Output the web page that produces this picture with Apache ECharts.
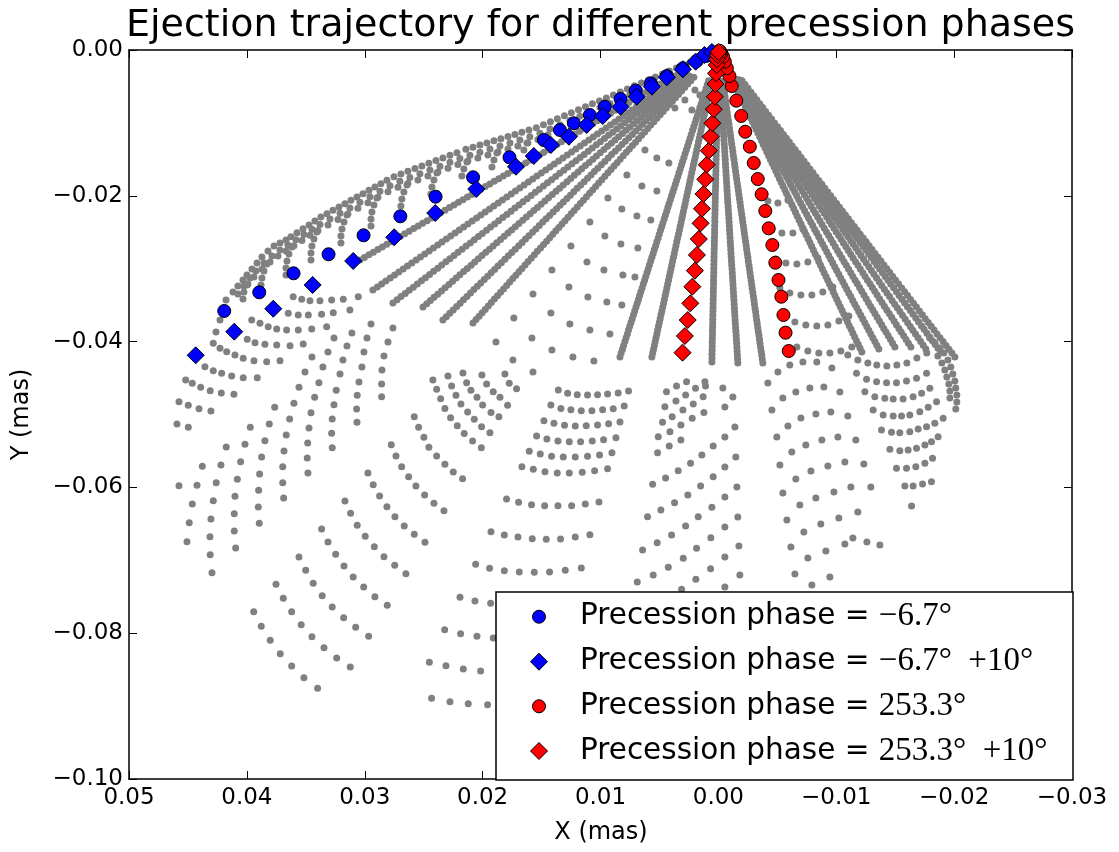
<!DOCTYPE html>
<html><head><meta charset="utf-8">
<script src="https://cdn.jsdelivr.net/npm/echarts@6/dist/echarts.min.js"></script>
<style>html,body{margin:0;padding:0;background:#fff}#c{width:1119px;height:852px}</style>
</head><body><div id="c"></div>
<script>
const titleText = 'Ejection trajectory for different precession phases';
const xAxisName = 'X (mas)';
const yAxisName = 'Y (mas)';
const xTicks = [0.05, 0.04, 0.03, 0.02, 0.01, 0.00, -0.01, -0.02, -0.03];
const yTicks = [0.00, -0.02, -0.04, -0.06, -0.08, -0.10];
const legendMain = 'Precession phase = ';
const legendMath = [['\u22126.7', ''], ['\u22126.7', '+10'], ['253.3', ''], ['253.3', '+10']];

const blueCircle = [[0.04192,-0.03580],[0.03895,-0.03324],[0.03604,-0.03063],[0.03307,-0.02802],[0.03010,-0.02542],[0.02698,-0.02281],[0.02399,-0.02012],[0.02081,-0.01746],[0.01772,-0.01472],[0.01480,-0.01235],[0.01344,-0.01097],[0.01226,-0.01005],[0.01090,-0.00892],[0.00963,-0.00778],[0.00830,-0.00672],[0.00702,-0.00558],[0.00573,-0.00457],[0.00437,-0.00357],[0.00301,-0.00251],[0.00184,-0.00151],[0.00103,-0.00082],[0.00047,-0.00034]];
const blueDiamond = [[0.04434,-0.04188],[0.04107,-0.03864],[0.03776,-0.03549],[0.03442,-0.03224],[0.03098,-0.02894],[0.02750,-0.02569],[0.02402,-0.02236],[0.02054,-0.01907],[0.01717,-0.01601],[0.01566,-0.01454],[0.01421,-0.01303],[0.01268,-0.01189],[0.01117,-0.01029],[0.00981,-0.00905],[0.00830,-0.00778],[0.00693,-0.00641],[0.00564,-0.00503],[0.00437,-0.00374],[0.00301,-0.00265],[0.00193,-0.00160],[0.00118,-0.00069],[0.00055,-0.00027]];
const redCircle = [[-0.00597,-0.04129],[-0.00570,-0.03878],[-0.00552,-0.03635],[-0.00534,-0.03384],[-0.00510,-0.03155],[-0.00483,-0.02918],[-0.00458,-0.02675],[-0.00427,-0.02446],[-0.00398,-0.02208],[-0.00367,-0.01979],[-0.00334,-0.01770],[-0.00300,-0.01550],[-0.00267,-0.01326],[-0.00228,-0.01121],[-0.00194,-0.00905],[-0.00152,-0.00695],[-0.00113,-0.00494],[-0.00094,-0.00357],[-0.00072,-0.00251],[-0.00055,-0.00160],[-0.00040,-0.00092],[-0.00025,-0.00045],[-0.00016,-0.00023],[-0.00008,-0.00010]];
const redDiamond = [[0.00304,-0.04152],[0.00284,-0.03923],[0.00260,-0.03704],[0.00238,-0.03475],[0.00221,-0.03247],[0.00199,-0.03027],[0.00182,-0.02812],[0.00166,-0.02593],[0.00151,-0.02377],[0.00139,-0.02177],[0.00126,-0.01975],[0.00111,-0.01774],[0.00099,-0.01573],[0.00081,-0.01381],[0.00066,-0.01189],[0.00051,-0.01005],[0.00039,-0.00813],[0.00030,-0.00641],[0.00024,-0.00466],[0.00020,-0.00320],[0.00014,-0.00206],[0.00012,-0.00128],[0.00005,-0.00069],[0.00000,-0.00027]];

const grayLowerLeft = [[0.04519,-0.04527],[0.04463,-0.04572],[0.04392,-0.04627],[0.04311,-0.04673],[0.04217,-0.04705],[0.04110,-0.04723],
[0.04576,-0.04824],[0.04497,-0.04874],[0.04406,-0.04920],[0.04305,-0.04952],[0.04593,-0.05130],[0.04497,-0.05176],
[0.03558,-0.04627],[0.03601,-0.04846],[0.03637,-0.05062],[0.03666,-0.05281],[0.03685,-0.05501],[0.03696,-0.05716],[0.03696,-0.05935],[0.03688,-0.06145],
[0.03389,-0.04564],[0.03425,-0.04764],[0.03456,-0.04975],[0.03473,-0.05185],[0.03484,-0.05391],[0.03488,-0.05597],[0.03482,-0.05802],
[0.03242,-0.04668],[0.03261,-0.04865],[0.03276,-0.05062],[0.03281,-0.05258],[0.03276,-0.05455],
[0.03049,-0.04554],[0.03064,-0.04737],[0.03069,-0.04924],[0.03066,-0.05107],[0.02857,-0.04581],[0.02857,-0.04756],
[0.03764,-0.04901],[0.03810,-0.05130],[0.03847,-0.05359],[0.03875,-0.05583],[0.03892,-0.05816],[0.03900,-0.06040],[0.03903,-0.06269],[0.03895,-0.06492],
[0.03971,-0.05176],[0.04016,-0.05409],[0.04053,-0.05647],[0.04081,-0.05889],[0.04101,-0.06122],[0.04107,-0.06361],[0.04107,-0.06598],[0.04095,-0.06831],
[0.04175,-0.05446],[0.04220,-0.05693],[0.04260,-0.05935],[0.04285,-0.06182],[0.04305,-0.06433],[0.04313,-0.06676],[0.04311,-0.06923],[0.04296,-0.07170],
[0.04378,-0.05710],[0.04423,-0.05971],[0.04463,-0.06228],[0.04489,-0.06484],[0.04508,-0.06745],[0.04576,-0.05976],
[0.02580,-0.05030],[0.02543,-0.05176],[0.02498,-0.05313],[0.02456,-0.05450],
[0.02775,-0.05414],[0.02735,-0.05569],[0.02687,-0.05716],[0.02628,-0.05853],[0.02566,-0.05981],[0.02492,-0.06104],
[0.02973,-0.05802],[0.02928,-0.05963],[0.02874,-0.06118],[0.02812,-0.06265],[0.02744,-0.06402],[0.02665,-0.06529],[0.02580,-0.06643],[0.02489,-0.06753],
[0.03168,-0.06186],[0.03120,-0.06355],[0.03064,-0.06520],[0.02996,-0.06671],[0.02919,-0.06813],[0.02837,-0.06950],[0.02746,-0.07068],[0.02651,-0.07184],
[0.03366,-0.06570],[0.03312,-0.06749],[0.03247,-0.06918],[0.03176,-0.07078],[0.03098,-0.07229],[0.03009,-0.07366],[0.02914,-0.07499],[0.02809,-0.07617],
[0.03558,-0.06955],[0.03501,-0.07137],[0.03437,-0.07315],[0.03361,-0.07485],[0.03276,-0.07640],[0.03179,-0.07787],[0.03077,-0.07919],[0.02967,-0.08042],
[0.03753,-0.07329],[0.03691,-0.07521],[0.03620,-0.07705],[0.03539,-0.07883],[0.03448,-0.08048],[0.03346,-0.08199],[0.03238,-0.08340],[0.03123,-0.08463],
[0.03942,-0.07705],[0.03878,-0.07905],[0.03802,-0.08097],[0.03717,-0.08281],[0.03620,-0.08450],[0.03516,-0.08610],[0.03400,-0.08756]];

const grayLowerMid = [[0.01358,-0.04664],[0.01279,-0.04710],[0.01197,-0.04728],[0.01110,-0.04733],[0.01025,-0.04728],[0.00940,-0.04719],[0.00850,-0.04705],[0.00762,-0.04678],
[0.01421,-0.04870],[0.01336,-0.04916],[0.01251,-0.04934],[0.01163,-0.04947],[0.01073,-0.04947],[0.00982,-0.04934],[0.00892,-0.04920],[0.00799,-0.04883],
[0.01480,-0.05085],[0.01395,-0.05121],[0.01305,-0.05149],[0.01214,-0.05158],[0.01121,-0.05153],[0.01025,-0.05144],[0.00931,-0.05126],[0.00835,-0.05103],
[0.01542,-0.05295],[0.01455,-0.05336],[0.01361,-0.05364],[0.01265,-0.05373],[0.01169,-0.05373],[0.01070,-0.05364],[0.00974,-0.05345],[0.00869,-0.05318],
[0.01604,-0.05505],[0.01511,-0.05542],[0.01415,-0.05574],[0.01316,-0.05583],[0.01214,-0.05583],[0.01110,-0.05574],[0.01008,-0.05556],[0.00903,-0.05524],
[0.01667,-0.05716],[0.01570,-0.05752],[0.01471,-0.05784],[0.01367,-0.05802],[0.01265,-0.05802],[0.01155,-0.05793],[0.01050,-0.05771],[0.00940,-0.05743],
[0.01797,-0.06159],[0.01695,-0.06205],[0.01585,-0.06237],[0.01474,-0.06251],[0.01361,-0.06251],[0.01245,-0.06251],[0.01129,-0.06228],[0.01013,-0.06200],
[0.01929,-0.06607],[0.01816,-0.06653],[0.01700,-0.06680],[0.01579,-0.06703],[0.01460,-0.06712],[0.01339,-0.06708],[0.01214,-0.06680],[0.01090,-0.06648],
[0.02059,-0.07055],[0.01941,-0.07110],[0.01816,-0.07142],[0.01689,-0.07161],[0.01562,-0.07165],[0.01432,-0.07161],[0.01299,-0.07138],[0.01163,-0.07106],
[0.02192,-0.07508],[0.02065,-0.07558],[0.01932,-0.07590],
[0.02322,-0.07952],[0.02187,-0.08006],[0.02048,-0.08043],[0.01910,-0.08066],
[0.02452,-0.08400],[0.02311,-0.08445],[0.02164,-0.08491],[0.02017,-0.08519],
[0.02433,-0.08894],[0.02277,-0.08939],[0.02122,-0.08967],[0.01958,-0.08981],
[0.02390,-0.05569],[0.02320,-0.05684],[0.02249,-0.05789],[0.02170,-0.05880],[0.02413,-0.06219],[0.02328,-0.06319],
[0.02390,-0.04655],[0.02356,-0.04783],[0.02320,-0.04916],[0.02272,-0.05044],[0.02215,-0.05153],[0.02156,-0.05259],[0.02085,-0.05364],[0.02011,-0.05455],
[0.02263,-0.04609],[0.02226,-0.04737],[0.02184,-0.04856],[0.02127,-0.04966],[0.02071,-0.05066],[0.02009,-0.05167],[0.01938,-0.05249],
[0.02136,-0.04564],[0.02099,-0.04669],[0.02048,-0.04765],[0.02000,-0.04870],[0.01929,-0.04971],[0.01862,-0.05030],
[0.01966,-0.04582],[0.01910,-0.04687],[0.01853,-0.04765],[0.01788,-0.04874],[0.01774,-0.04573],[0.01712,-0.04646],
[0.00440,-0.04687],[0.00355,-0.04609],[0.00270,-0.04550],[0.00114,-0.04550],
[0.00454,-0.04893],[0.00360,-0.04815],[0.00278,-0.04733],[0.00194,-0.04641],[0.00109,-0.04609],
[0.00474,-0.05107],[0.00392,-0.05030],[0.00301,-0.04938],[0.00213,-0.04856],[0.00129,-0.04755],
[0.00510,-0.05304],[0.00411,-0.05236],[0.00318,-0.05144],[0.00222,-0.05053],[0.00123,-0.04971],
[0.00516,-0.05524],[0.00417,-0.05432],[0.00318,-0.05350],
[0.00558,-0.05958],[0.00448,-0.05871],[0.00341,-0.05771],[0.00236,-0.05670],[0.00140,-0.05556],[0.00044,-0.05432],
[0.00601,-0.06402],[0.00488,-0.06310],[0.00372,-0.06209],[0.00259,-0.06104],[0.00151,-0.05981],[0.00044,-0.05853],
[0.00643,-0.06859],[0.00519,-0.06758],[0.00397,-0.06653],[0.00278,-0.06530],[0.00171,-0.06402],[0.00055,-0.06273],
[0.00688,-0.07298],[0.00553,-0.07202],[0.00425,-0.07097],[0.00298,-0.06973],[0.00185,-0.06836],[0.00064,-0.06690],
[0.00312,-0.07398],[0.00191,-0.07261],[0.00066,-0.07115]];

const grayEnvelope = [[0.00059,-0.00041],[0.00119,-0.00082],[0.00178,-0.00123],[0.00237,-0.00164],[0.00297,-0.00205],[0.00356,-0.00246],[0.00416,-0.00287],[0.00475,-0.00328],[0.00534,-0.00369],[0.00594,-0.00410],[0.00653,-0.00451],[0.00712,-0.00492],[0.00772,-0.00534],[0.00831,-0.00575],[0.00891,-0.00616],[0.00950,-0.00657],[0.01009,-0.00698],[0.01069,-0.00739],[0.01128,-0.00780],[0.01187,-0.00821],[0.01247,-0.00862],[0.01306,-0.00903],[0.01366,-0.00944],[0.01425,-0.00985],[0.01484,-0.01026],[0.01544,-0.01067],
[0.01607,-0.01099],[0.01667,-0.01129],[0.01726,-0.01158],[0.01785,-0.01187],[0.01845,-0.01217],[0.01904,-0.01246],[0.01964,-0.01276],[0.02023,-0.01304],[0.02082,-0.01333],[0.02142,-0.01363],
[0.02218,-0.01409],[0.02277,-0.01444],[0.02337,-0.01481],[0.02396,-0.01517],[0.02456,-0.01554],[0.02515,-0.01591],[0.02574,-0.01627],[0.02634,-0.01664],[0.02693,-0.01700],[0.02752,-0.01737],
[0.02812,-0.01787],[0.02863,-0.01834],[0.02914,-0.01879],[0.02964,-0.01925],[0.03015,-0.01971],[0.03066,-0.02016],
[0.03117,-0.02062],[0.03168,-0.02108],[0.03219,-0.02154],[0.03270,-0.02199],[0.03321,-0.02245],[0.03372,-0.02291],
[0.03423,-0.02344],[0.03473,-0.02399],[0.03524,-0.02453],[0.03575,-0.02507],[0.03626,-0.02561],[0.03668,-0.02606],
[0.03719,-0.02647],[0.03770,-0.02689],[0.03821,-0.02757],[0.03872,-0.02839],[0.03914,-0.02922],[0.03957,-0.03004],[0.03999,-0.03086],[0.04033,-0.03155],[0.04076,-0.03237],[0.04118,-0.03320],
[0.04177,-0.03429],[0.04203,-0.03566],[0.04228,-0.03704],[0.04262,-0.03868],
[0.00581,-0.00498],[0.00666,-0.00557],[0.00751,-0.00615],[0.00835,-0.00674],[0.00920,-0.00733],[0.01005,-0.00790],[0.01090,-0.00849],[0.01175,-0.00908],[0.01260,-0.00967],[0.01344,-0.01025],[0.01429,-0.01084],[0.01514,-0.01143],
[0.01599,-0.01191],[0.01684,-0.01233],[0.01768,-0.01276],[0.01853,-0.01317],[0.01938,-0.01359],[0.02023,-0.01401],[0.02108,-0.01443],
[0.02193,-0.01488],[0.02277,-0.01540],[0.02362,-0.01593],[0.02447,-0.01645],[0.02532,-0.01697],[0.02617,-0.01749],[0.02702,-0.01801],
[0.02786,-0.01861],[0.02871,-0.01937],[0.02956,-0.02014],[0.03041,-0.02089],[0.03126,-0.02166],[0.03210,-0.02241],[0.03295,-0.02318],[0.03380,-0.02395],
[0.03448,-0.02459],[0.03516,-0.02531],[0.03584,-0.02604],[0.03652,-0.02675],[0.03719,-0.02743],[0.03787,-0.02826],[0.03855,-0.02922],[0.03923,-0.03031],[0.03974,-0.03128],[0.04025,-0.03237],[0.04076,-0.03347],
[0.01361,-0.01111],[0.01446,-0.01166],[0.01531,-0.01228],[0.01616,-0.01276],[0.01701,-0.01317],[0.01785,-0.01358],[0.01870,-0.01399],[0.01955,-0.01440],[0.02040,-0.01481],[0.02125,-0.01523],
[0.02210,-0.01571],[0.02294,-0.01623],[0.02379,-0.01673],[0.02464,-0.01728],[0.02549,-0.01783],[0.02634,-0.01831],[0.02718,-0.01883],[0.02803,-0.01944],[0.02888,-0.02019],[0.02973,-0.02096],
[0.03058,-0.02171],[0.03143,-0.02250],[0.03227,-0.02324],[0.03312,-0.02400],[0.03397,-0.02477],[0.03465,-0.02542],[0.03533,-0.02613],[0.03601,-0.02686],[0.03668,-0.02757],[0.03736,-0.02826],
[0.03804,-0.02908],[0.03872,-0.03004],[0.03940,-0.03114],[0.03991,-0.03210]];

const grayTeeth = [[0.01624,-0.01276],[0.01650,-0.01372],[0.01879,-0.01413],[0.01904,-0.01509],[0.01921,-0.01605],
[0.02133,-0.01536],[0.02159,-0.01632],[0.02176,-0.01728],[0.02388,-0.01687],[0.02413,-0.01783],[0.02430,-0.01879],[0.02439,-0.01975],
[0.02642,-0.01852],[0.02668,-0.01948],[0.02685,-0.02044],[0.02693,-0.02140],[0.02897,-0.02030],[0.02922,-0.02126],[0.02939,-0.02222],[0.02947,-0.02318],[0.02947,-0.02414],
[0.03151,-0.02263],[0.03176,-0.02359],[0.03193,-0.02455],[0.03202,-0.02551],[0.03202,-0.02647],[0.03406,-0.02497],[0.03431,-0.02593],[0.03448,-0.02689],[0.03456,-0.02785],[0.03456,-0.02881],
[0.03618,-0.02702],[0.03643,-0.02798],[0.03660,-0.02894],[0.03668,-0.02990],[0.03668,-0.03086],[0.03830,-0.02935],[0.03855,-0.03031],[0.03872,-0.03128],[0.03880,-0.03223],
[0.03999,-0.03223],[0.04025,-0.03320],[0.04033,-0.03416]];

const grayRowsUL = [[0.03607,-0.03384],[0.03535,-0.03420],[0.03465,-0.03439],[0.03380,-0.03439],[0.03281,-0.03429],[0.03182,-0.03420],[0.03055,-0.03384],
[0.03649,-0.03612],[0.03564,-0.03635],[0.03479,-0.03635],[0.03366,-0.03625],[0.03267,-0.03603],[0.03126,-0.03566],
[0.03959,-0.03704],[0.03889,-0.03749],[0.03819,-0.03796],[0.03747,-0.03827],[0.03663,-0.03841],[0.03564,-0.03841],[0.03450,-0.03827],[0.03323,-0.03796],
[0.03997,-0.03968],[0.03931,-0.04015],[0.03847,-0.04037],[0.03747,-0.04047],[0.03634,-0.04056],[0.03522,-0.04033],
[0.04285,-0.04023],[0.04228,-0.04092],[0.04171,-0.04138],[0.04101,-0.04184],[0.04031,-0.04229],[0.03940,-0.04262],[0.03832,-0.04276],[0.03719,-0.04262],
[0.04356,-0.04344],[0.04285,-0.04399],[0.04214,-0.04435],[0.04129,-0.04472],[0.04031,-0.04495],[0.03912,-0.04495],
[0.03507,-0.04417],[0.03448,-0.04211],[0.03355,-0.04348],[0.03312,-0.04143],[0.03261,-0.03951],
[0.03210,-0.04444],[0.03185,-0.04252],[0.03151,-0.04060],[0.03109,-0.03882],
[0.03024,-0.04348],[0.03007,-0.04143],[0.02981,-0.03951],[0.02947,-0.03758],
[0.02854,-0.04389],[0.02837,-0.04197],[0.02803,-0.04005],[0.02761,-0.03813]];

const grayArcsMid = [[0.00623,-0.01372],[0.00522,-0.01481],[0.00420,-0.01550],[0.00776,-0.01715],[0.00649,-0.01866],[0.00522,-0.01934],
[0.00937,-0.02030],[0.00819,-0.02181],[0.00691,-0.02277],[0.00573,-0.02332],[0.01090,-0.02359],[0.00963,-0.02551],[0.00827,-0.02661],[0.00683,-0.02716],
[0.01251,-0.02689],[0.01115,-0.02908],[0.00971,-0.03018],[0.00810,-0.03086],[0.00708,-0.03114],
[0.01412,-0.03018],[0.01268,-0.03251],[0.01107,-0.03388],[0.00946,-0.03457],[0.00819,-0.03498],
[0.01573,-0.03347],[0.01421,-0.03608],[0.01260,-0.03758],[0.01090,-0.03841],[0.00920,-0.03896],
[0.01735,-0.03676],[0.01582,-0.03951],[0.01412,-0.04115],[0.01234,-0.04211],[0.01056,-0.04266],
[0.01887,-0.04005],[0.01743,-0.04252],[0.01573,-0.04417],
[0.02422,-0.04527],[0.02294,-0.04472],[0.02167,-0.04431],[0.02006,-0.04458],[0.01811,-0.04444],
[0.00242,-0.00412],[0.00327,-0.00521],[0.00411,-0.00617],[0.00199,-0.00549],[0.00284,-0.00686],[0.00369,-0.00796],[0.00157,-0.00617],[0.00225,-0.00823]];

const grayRightRows = [[-0.01098,-0.04184],[-0.01183,-0.04252],[-0.01268,-0.04293],[-0.01344,-0.04321],[-0.01429,-0.04335],[-0.01514,-0.04321],[-0.01599,-0.04293],[-0.01684,-0.04225],[-0.01768,-0.04156],
[-0.01172,-0.04435],[-0.01257,-0.04517],[-0.01342,-0.04550],[-0.01427,-0.04564],[-0.01511,-0.04564],[-0.01596,-0.04540],[-0.01681,-0.04503],[-0.01766,-0.04435],
[-0.01243,-0.04687],[-0.01327,-0.04756],[-0.01412,-0.04778],[-0.01483,-0.04787],[-0.01567,-0.04787],[-0.01652,-0.04756],[-0.01724,-0.04709],[-0.01794,-0.04640],
[-0.01313,-0.04938],[-0.01398,-0.05007],[-0.01483,-0.05020],[-0.01554,-0.05020],[-0.01624,-0.05007],[-0.01709,-0.04961],[-0.01780,-0.04901],[-0.01851,-0.04824],
[-0.01384,-0.05212],[-0.01469,-0.05244],[-0.01539,-0.05250],[-0.01624,-0.05236],[-0.01695,-0.05199],[-0.01766,-0.05167],[-0.01836,-0.05121],[-0.01907,-0.05052],
[-0.01455,-0.05477],[-0.01539,-0.05496],[-0.01610,-0.05487],[-0.01681,-0.05464],[-0.01752,-0.05418],[-0.01808,-0.05373],[-0.01864,-0.05304],
[-0.01511,-0.05738],[-0.01596,-0.05738],[-0.01675,-0.05716],[-0.01752,-0.05669],[-0.01817,-0.05601],
[-0.01582,-0.05981],[-0.01652,-0.05981],[-0.01732,-0.05953],[-0.01808,-0.05922],[-0.01639,-0.06255],
[-0.01794,-0.03951],[-0.01836,-0.04019],[-0.01879,-0.04088],[-0.01913,-0.04156],[-0.01947,-0.04252],[-0.01972,-0.04348],[-0.01989,-0.04444],[-0.02006,-0.04540],[-0.02014,-0.04636],[-0.02023,-0.04732],[-0.02023,-0.04828],[-0.02014,-0.04924],
[-0.01862,-0.04197],[-0.01896,-0.04293],[-0.01921,-0.04389],[-0.01938,-0.04485],[-0.01955,-0.04581],[-0.01964,-0.04678],[-0.01964,-0.04774]];

const grayBelowRight = [[-0.00055,-0.04897],[-0.00140,-0.05171],[-0.00148,-0.05583],[-0.00157,-0.05994],[-0.00165,-0.06406],[-0.00174,-0.06804],[-0.00182,-0.07201],[-0.00038,-0.04636],[-0.00123,-0.04760],
[-0.00055,-0.05309],[-0.00055,-0.05720],[-0.00055,-0.06132],[-0.00055,-0.06543],[-0.00055,-0.06955],[-0.00055,-0.07366],
[-0.00420,-0.04568],[-0.00454,-0.04938],[-0.00496,-0.05308],[-0.00522,-0.05693],[-0.00547,-0.06077],[-0.00581,-0.06447],[-0.00615,-0.06817],[-0.00649,-0.07188],
[-0.00505,-0.04417],[-0.00547,-0.04774],[-0.00590,-0.05158],[-0.00623,-0.05514],[-0.00657,-0.05885],[-0.00691,-0.06241],[-0.00725,-0.06612],[-0.00759,-0.06968],[-0.00793,-0.07339],
[-0.00606,-0.04321],[-0.00657,-0.04691],[-0.00700,-0.05048],[-0.00742,-0.05418],[-0.00785,-0.05775],[-0.00827,-0.06145],[-0.00869,-0.06502],[-0.00912,-0.06872],[-0.00946,-0.07229],
[-0.00717,-0.04280],[-0.00776,-0.04636],[-0.00827,-0.04993],[-0.00878,-0.05350],[-0.00929,-0.05706],[-0.00980,-0.06063],[-0.01022,-0.06420],[-0.01073,-0.06776],
[-0.00835,-0.04280],[-0.00895,-0.04623],[-0.00954,-0.04966],[-0.01014,-0.05308],[-0.01073,-0.05652],[-0.01124,-0.05994],[-0.01183,-0.06337],
[-0.00963,-0.04362],[-0.01031,-0.04691],[-0.01098,-0.05020],[-0.01166,-0.05350],[-0.01234,-0.05679],[-0.01293,-0.05994],
[-0.01141,-0.06694],[-0.01260,-0.06749],[-0.01370,-0.06790]];

const grayWedgeRight = [[-0.00420,-0.02071],[-0.00505,-0.02099],[-0.00590,-0.02058],
[-0.00454,-0.02469],[-0.00539,-0.02510],[-0.00632,-0.02510],[-0.00717,-0.02455],
[-0.00488,-0.02867],[-0.00573,-0.02922],[-0.00666,-0.02935],[-0.00759,-0.02908],[-0.00844,-0.02853],
[-0.00522,-0.03265],[-0.00606,-0.03333],[-0.00700,-0.03361],[-0.00793,-0.03361],[-0.00886,-0.03320],[-0.00971,-0.03251],
[-0.00556,-0.03662],[-0.00649,-0.03731],[-0.00742,-0.03772],[-0.00835,-0.03786],[-0.00929,-0.03772],[-0.01022,-0.03717],[-0.01107,-0.03649],
[-0.00666,-0.04074],[-0.00759,-0.04129],[-0.00852,-0.04156],[-0.00946,-0.04156],[-0.01039,-0.04129],[-0.01132,-0.04074]];

// dense straight rays of the fan, read as x and y lists (two interleaved passes each)
const rayL1x = [0.00304,0.00380,0.00456,0.00532,0.00608,0.00684,0.00760,0.00836,0.00912,0.00988,0.01064,0.01140,0.01216,0.01292,0.01369,0.01445,0.01521,0.01597,0.01673,0.01749,0.01825,0.01901,0.01977,0.02053,0.02129,0.02205,0.02281,0.02357,0.02433,0.02509,0.02585,0.02661,0.02737,0.02813,0.02889,0.02965,0.03041];
const rayL1y = [-0.00288,-0.00360,-0.00432,-0.00504,-0.00576,-0.00648,-0.00720,-0.00792,-0.00864,-0.00936,-0.01008,-0.01080,-0.01152,-0.01224,-0.01297,-0.01369,-0.01441,-0.01513,-0.01585,-0.01657,-0.01729,-0.01801,-0.01873,-0.01945,-0.02017,-0.02089,-0.02161,-0.02233,-0.02305,-0.02377,-0.02449,-0.02521,-0.02593,-0.02665,-0.02737,-0.02809,-0.02881];
const rayL1xm = [0.00342,0.00418,0.00494,0.00570,0.00646,0.00722,0.00798,0.00874,0.00950,0.01026,0.01102,0.01178,0.01254,0.01331,0.01407,0.01483,0.01559,0.01635,0.01711,0.01787,0.01863,0.01939,0.02015,0.02091,0.02167,0.02243,0.02319,0.02395,0.02471,0.02547,0.02623,0.02699,0.02775,0.02851,0.02927,0.03003];
const rayL1ym = [-0.00324,-0.00396,-0.00468,-0.00540,-0.00612,-0.00684,-0.00756,-0.00828,-0.00900,-0.00972,-0.01044,-0.01116,-0.01188,-0.01260,-0.01333,-0.01405,-0.01477,-0.01549,-0.01621,-0.01693,-0.01765,-0.01837,-0.01909,-0.01981,-0.02053,-0.02125,-0.02197,-0.02269,-0.02341,-0.02413,-0.02485,-0.02557,-0.02629,-0.02701,-0.02773,-0.02845];
const rayL2x = [0.00293,0.00366,0.00440,0.00513,0.00586,0.00659,0.00733,0.00806,0.00879,0.00952,0.01026,0.01099,0.01172,0.01245,0.01319,0.01392,0.01465,0.01539,0.01612,0.01685,0.01758,0.01832,0.01905,0.01978,0.02051,0.02125,0.02198,0.02271,0.02345,0.02418,0.02491,0.02564,0.02638,0.02711,0.02784,0.02857,0.02931];
const rayL2y = [-0.00329,-0.00412,-0.00494,-0.00576,-0.00658,-0.00741,-0.00823,-0.00905,-0.00988,-0.01070,-0.01152,-0.01235,-0.01317,-0.01399,-0.01481,-0.01564,-0.01646,-0.01728,-0.01811,-0.01893,-0.01975,-0.02058,-0.02140,-0.02222,-0.02304,-0.02387,-0.02469,-0.02551,-0.02634,-0.02716,-0.02798,-0.02881,-0.02963,-0.03045,-0.03127,-0.03210,-0.03292];
const rayL2xm = [0.00330,0.00403,0.00476,0.00550,0.00623,0.00696,0.00769,0.00843,0.00916,0.00989,0.01062,0.01136,0.01209,0.01282,0.01355,0.01429,0.01502,0.01575,0.01648,0.01722,0.01795,0.01868,0.01941,0.02015,0.02088,0.02161,0.02234,0.02308,0.02381,0.02454,0.02528,0.02601,0.02674,0.02747,0.02821,0.02894];
const rayL2ym = [-0.00370,-0.00453,-0.00535,-0.00617,-0.00700,-0.00782,-0.00864,-0.00946,-0.01029,-0.01111,-0.01193,-0.01276,-0.01358,-0.01440,-0.01523,-0.01605,-0.01687,-0.01770,-0.01852,-0.01934,-0.02016,-0.02099,-0.02181,-0.02263,-0.02346,-0.02428,-0.02510,-0.02593,-0.02675,-0.02757,-0.02840,-0.02922,-0.03004,-0.03086,-0.03169,-0.03251];
const rayL3x = [0.00276,0.00345,0.00414,0.00483,0.00552,0.00621,0.00690,0.00759,0.00828,0.00897,0.00966,0.01035,0.01104,0.01173,0.01242,0.01311,0.01380,0.01450,0.01519,0.01588,0.01657,0.01726,0.01795,0.01864,0.01933,0.02002,0.02071,0.02140,0.02209,0.02278,0.02347,0.02416,0.02485,0.02554,0.02623,0.02692,0.02761];
const rayL3y = [-0.00347,-0.00434,-0.00521,-0.00607,-0.00694,-0.00781,-0.00868,-0.00954,-0.01041,-0.01128,-0.01215,-0.01301,-0.01388,-0.01475,-0.01562,-0.01648,-0.01735,-0.01822,-0.01909,-0.01995,-0.02082,-0.02169,-0.02256,-0.02342,-0.02429,-0.02516,-0.02603,-0.02689,-0.02776,-0.02863,-0.02950,-0.03036,-0.03123,-0.03210,-0.03297,-0.03383,-0.03470];
const rayL3xm = [0.00311,0.00380,0.00449,0.00518,0.00587,0.00656,0.00725,0.00794,0.00863,0.00932,0.01001,0.01070,0.01139,0.01208,0.01277,0.01346,0.01415,0.01484,0.01553,0.01622,0.01691,0.01760,0.01829,0.01898,0.01967,0.02036,0.02105,0.02174,0.02243,0.02312,0.02381,0.02450,0.02519,0.02588,0.02657,0.02726];
const rayL3ym = [-0.00390,-0.00477,-0.00564,-0.00651,-0.00737,-0.00824,-0.00911,-0.00998,-0.01085,-0.01171,-0.01258,-0.01345,-0.01432,-0.01518,-0.01605,-0.01692,-0.01779,-0.01865,-0.01952,-0.02039,-0.02126,-0.02212,-0.02299,-0.02386,-0.02473,-0.02559,-0.02646,-0.02733,-0.02820,-0.02906,-0.02993,-0.03080,-0.03167,-0.03253,-0.03340,-0.03427];
const rayL4x = [0.00251,0.00313,0.00376,0.00439,0.00501,0.00564,0.00627,0.00689,0.00752,0.00814,0.00877,0.00940,0.01002,0.01065,0.01128,0.01190,0.01253,0.01316,0.01378,0.01441,0.01504,0.01566,0.01629,0.01692,0.01754,0.01817,0.01880,0.01942,0.02005,0.02067,0.02130,0.02193,0.02255,0.02318,0.02381,0.02443,0.02506];
const rayL4y = [-0.00353,-0.00441,-0.00529,-0.00617,-0.00705,-0.00793,-0.00881,-0.00969,-0.01058,-0.01146,-0.01234,-0.01322,-0.01410,-0.01498,-0.01586,-0.01674,-0.01763,-0.01851,-0.01939,-0.02027,-0.02115,-0.02203,-0.02291,-0.02379,-0.02468,-0.02556,-0.02644,-0.02732,-0.02820,-0.02908,-0.02996,-0.03084,-0.03173,-0.03261,-0.03349,-0.03437,-0.03525];
const rayL4xm = [0.00282,0.00345,0.00407,0.00470,0.00533,0.00595,0.00658,0.00720,0.00783,0.00846,0.00908,0.00971,0.01034,0.01096,0.01159,0.01222,0.01284,0.01347,0.01409,0.01472,0.01535,0.01597,0.01660,0.01723,0.01785,0.01848,0.01911,0.01973,0.02036,0.02098,0.02161,0.02224,0.02286,0.02349,0.02412,0.02474];
const rayL4ym = [-0.00397,-0.00485,-0.00573,-0.00661,-0.00749,-0.00837,-0.00925,-0.01013,-0.01102,-0.01190,-0.01278,-0.01366,-0.01454,-0.01542,-0.01630,-0.01718,-0.01807,-0.01895,-0.01983,-0.02071,-0.02159,-0.02247,-0.02335,-0.02423,-0.02512,-0.02600,-0.02688,-0.02776,-0.02864,-0.02952,-0.03040,-0.03128,-0.03217,-0.03305,-0.03393,-0.03481];
const rayL5x = [0.00234,0.00292,0.00351,0.00409,0.00467,0.00526,0.00584,0.00643,0.00701,0.00760,0.00818,0.00876,0.00935,0.00993,0.01052,0.01110,0.01168,0.01227,0.01285,0.01344,0.01402,0.01461,0.01519,0.01577,0.01636,0.01694,0.01753,0.01811,0.01870,0.01928,0.01986,0.02045,0.02103,0.02162,0.02220,0.02279,0.02337];
const rayL5y = [-0.00370,-0.00463,-0.00556,-0.00648,-0.00741,-0.00833,-0.00926,-0.01019,-0.01111,-0.01204,-0.01296,-0.01389,-0.01482,-0.01574,-0.01667,-0.01759,-0.01852,-0.01945,-0.02037,-0.02130,-0.02222,-0.02315,-0.02408,-0.02500,-0.02593,-0.02685,-0.02778,-0.02871,-0.02963,-0.03056,-0.03148,-0.03241,-0.03334,-0.03426,-0.03519,-0.03611,-0.03704];
const rayL5xm = [0.00263,0.00321,0.00380,0.00438,0.00497,0.00555,0.00614,0.00672,0.00730,0.00789,0.00847,0.00906,0.00964,0.01023,0.01081,0.01139,0.01198,0.01256,0.01315,0.01373,0.01432,0.01490,0.01548,0.01607,0.01665,0.01724,0.01782,0.01841,0.01899,0.01957,0.02016,0.02074,0.02133,0.02191,0.02250,0.02308];
const rayL5ym = [-0.00417,-0.00509,-0.00602,-0.00695,-0.00787,-0.00880,-0.00972,-0.01065,-0.01158,-0.01250,-0.01343,-0.01435,-0.01528,-0.01621,-0.01713,-0.01806,-0.01898,-0.01991,-0.02084,-0.02176,-0.02269,-0.02361,-0.02454,-0.02547,-0.02639,-0.02732,-0.02824,-0.02917,-0.03010,-0.03102,-0.03195,-0.03287,-0.03380,-0.03473,-0.03565,-0.03658];
const rayL6x = [0.00208,0.00260,0.00312,0.00364,0.00416,0.00468,0.00521,0.00573,0.00625,0.00677,0.00729,0.00781,0.00833,0.00885,0.00937,0.00989,0.01041,0.01093,0.01145,0.01197,0.01249,0.01301,0.01353,0.01405,0.01457,0.01509,0.01561,0.01614,0.01666,0.01718,0.01770,0.01822,0.01874,0.01926,0.01978,0.02030,0.02082];
const rayL6y = [-0.00375,-0.00468,-0.00562,-0.00655,-0.00749,-0.00843,-0.00936,-0.01030,-0.01124,-0.01217,-0.01311,-0.01404,-0.01498,-0.01592,-0.01685,-0.01779,-0.01873,-0.01966,-0.02060,-0.02153,-0.02247,-0.02341,-0.02434,-0.02528,-0.02622,-0.02715,-0.02809,-0.02902,-0.02996,-0.03090,-0.03183,-0.03277,-0.03371,-0.03464,-0.03558,-0.03651,-0.03745];
const rayL6xm = [0.00234,0.00286,0.00338,0.00390,0.00442,0.00494,0.00547,0.00599,0.00651,0.00703,0.00755,0.00807,0.00859,0.00911,0.00963,0.01015,0.01067,0.01119,0.01171,0.01223,0.01275,0.01327,0.01379,0.01431,0.01483,0.01536,0.01588,0.01640,0.01692,0.01744,0.01796,0.01848,0.01900,0.01952,0.02004,0.02056];
const rayL6ym = [-0.00421,-0.00515,-0.00609,-0.00702,-0.00796,-0.00889,-0.00983,-0.01077,-0.01170,-0.01264,-0.01358,-0.01451,-0.01545,-0.01638,-0.01732,-0.01826,-0.01919,-0.02013,-0.02107,-0.02200,-0.02294,-0.02387,-0.02481,-0.02575,-0.02668,-0.02762,-0.02856,-0.02949,-0.03043,-0.03136,-0.03230,-0.03324,-0.03417,-0.03511,-0.03605,-0.03698];
const rayM1x = [0.00084,0.00104,0.00125,0.00146,0.00167,0.00188,0.00209,0.00230,0.00251,0.00271,0.00292,0.00313,0.00334,0.00355,0.00376,0.00397,0.00418,0.00438,0.00459,0.00480,0.00501,0.00522,0.00543,0.00564,0.00585,0.00605,0.00626,0.00647,0.00668,0.00689,0.00710,0.00731,0.00752,0.00772,0.00793,0.00814,0.00835];
const rayM1xm = [0.00094,0.00115,0.00136,0.00157,0.00177,0.00198,0.00219,0.00240,0.00261,0.00282,0.00303,0.00324,0.00344,0.00365,0.00386,0.00407,0.00428,0.00449,0.00470,0.00491,0.00511,0.00532,0.00553,0.00574,0.00595,0.00616,0.00637,0.00658,0.00678,0.00699,0.00720,0.00741,0.00762,0.00783,0.00804,0.00825];
const rayM2x = [0.00056,0.00071,0.00085,0.00099,0.00113,0.00127,0.00141,0.00155,0.00169,0.00183,0.00197,0.00212,0.00226,0.00240,0.00254,0.00268,0.00282,0.00296,0.00310,0.00324,0.00338,0.00353,0.00367,0.00381,0.00395,0.00409,0.00423,0.00437,0.00451,0.00465,0.00479,0.00494,0.00508,0.00522,0.00536,0.00550,0.00564];
const rayM2xm = [0.00063,0.00078,0.00092,0.00106,0.00120,0.00134,0.00148,0.00162,0.00176,0.00190,0.00205,0.00219,0.00233,0.00247,0.00261,0.00275,0.00289,0.00303,0.00317,0.00331,0.00346,0.00360,0.00374,0.00388,0.00402,0.00416,0.00430,0.00444,0.00458,0.00472,0.00487,0.00501,0.00515,0.00529,0.00543,0.00557];
const rayM12y = [-0.00421,-0.00526,-0.00632,-0.00737,-0.00842,-0.00948,-0.01053,-0.01158,-0.01263,-0.01369,-0.01474,-0.01579,-0.01684,-0.01790,-0.01895,-0.02000,-0.02106,-0.02211,-0.02316,-0.02421,-0.02527,-0.02632,-0.02737,-0.02842,-0.02948,-0.03053,-0.03158,-0.03264,-0.03369,-0.03474,-0.03579,-0.03685,-0.03790,-0.03895,-0.04000,-0.04106,-0.04211];
const rayM12ym = [-0.00474,-0.00579,-0.00684,-0.00790,-0.00895,-0.01000,-0.01105,-0.01211,-0.01316,-0.01421,-0.01526,-0.01632,-0.01737,-0.01842,-0.01948,-0.02053,-0.02158,-0.02263,-0.02369,-0.02474,-0.02579,-0.02684,-0.02790,-0.02895,-0.03000,-0.03106,-0.03211,-0.03316,-0.03421,-0.03527,-0.03632,-0.03737,-0.03842,-0.03948,-0.04053,-0.04158];
const rayM3x = [0.00006,0.00007,0.00008,0.00010,0.00011,0.00012,0.00014,0.00015,0.00017,0.00018,0.00019,0.00021,0.00022,0.00023,0.00025,0.00026,0.00028,0.00029,0.00030,0.00032,0.00033,0.00034,0.00036,0.00037,0.00039,0.00040,0.00041,0.00043,0.00044,0.00045,0.00047,0.00048,0.00050,0.00051,0.00052,0.00054,0.00055];
const rayM3y = [-0.00428,-0.00535,-0.00642,-0.00749,-0.00856,-0.00963,-0.01070,-0.01177,-0.01284,-0.01391,-0.01498,-0.01605,-0.01712,-0.01819,-0.01926,-0.02033,-0.02140,-0.02247,-0.02354,-0.02461,-0.02568,-0.02675,-0.02782,-0.02889,-0.02996,-0.03103,-0.03210,-0.03317,-0.03424,-0.03531,-0.03638,-0.03745,-0.03852,-0.03959,-0.04066,-0.04173,-0.04280];
const rayM3xm = [0.00006,0.00008,0.00009,0.00010,0.00012,0.00013,0.00014,0.00016,0.00017,0.00019,0.00020,0.00021,0.00023,0.00024,0.00026,0.00027,0.00028,0.00030,0.00031,0.00032,0.00034,0.00035,0.00037,0.00038,0.00039,0.00041,0.00042,0.00043,0.00045,0.00046,0.00048,0.00049,0.00050,0.00052,0.00053,0.00054];
const rayM3ym = [-0.00482,-0.00589,-0.00696,-0.00803,-0.00910,-0.01017,-0.01124,-0.01231,-0.01338,-0.01445,-0.01552,-0.01659,-0.01766,-0.01873,-0.01980,-0.02087,-0.02194,-0.02301,-0.02408,-0.02515,-0.02622,-0.02729,-0.02836,-0.02943,-0.03050,-0.03157,-0.03264,-0.03371,-0.03478,-0.03585,-0.03692,-0.03799,-0.03906,-0.04013,-0.04120,-0.04227];
const rayM4x = [-0.00017,-0.00021,-0.00025,-0.00029,-0.00033,-0.00037,-0.00041,-0.00045,-0.00050,-0.00054,-0.00058,-0.00062,-0.00066,-0.00070,-0.00074,-0.00078,-0.00083,-0.00087,-0.00091,-0.00095,-0.00099,-0.00103,-0.00107,-0.00111,-0.00116,-0.00120,-0.00124,-0.00128,-0.00132,-0.00136,-0.00140,-0.00144,-0.00149,-0.00153,-0.00157,-0.00161,-0.00165];
const rayM4xm = [-0.00019,-0.00023,-0.00027,-0.00031,-0.00035,-0.00039,-0.00043,-0.00047,-0.00052,-0.00056,-0.00060,-0.00064,-0.00068,-0.00072,-0.00076,-0.00080,-0.00085,-0.00089,-0.00093,-0.00097,-0.00101,-0.00105,-0.00109,-0.00113,-0.00118,-0.00122,-0.00126,-0.00130,-0.00134,-0.00138,-0.00142,-0.00146,-0.00151,-0.00155,-0.00159,-0.00163];
const rayM5x = [-0.00038,-0.00047,-0.00057,-0.00066,-0.00075,-0.00085,-0.00094,-0.00104,-0.00113,-0.00123,-0.00132,-0.00141,-0.00151,-0.00160,-0.00170,-0.00179,-0.00188,-0.00198,-0.00207,-0.00217,-0.00226,-0.00236,-0.00245,-0.00254,-0.00264,-0.00273,-0.00283,-0.00292,-0.00302,-0.00311,-0.00320,-0.00330,-0.00339,-0.00349,-0.00358,-0.00368,-0.00377];
const rayM5xm = [-0.00042,-0.00052,-0.00061,-0.00071,-0.00080,-0.00090,-0.00099,-0.00108,-0.00118,-0.00127,-0.00137,-0.00146,-0.00155,-0.00165,-0.00174,-0.00184,-0.00193,-0.00203,-0.00212,-0.00221,-0.00231,-0.00240,-0.00250,-0.00259,-0.00268,-0.00278,-0.00287,-0.00297,-0.00306,-0.00316,-0.00325,-0.00334,-0.00344,-0.00353,-0.00363,-0.00372];
const rayM45y = [-0.00429,-0.00537,-0.00644,-0.00751,-0.00859,-0.00966,-0.01073,-0.01181,-0.01288,-0.01395,-0.01502,-0.01610,-0.01717,-0.01824,-0.01932,-0.02039,-0.02147,-0.02254,-0.02361,-0.02468,-0.02576,-0.02683,-0.02790,-0.02898,-0.03005,-0.03112,-0.03220,-0.03327,-0.03434,-0.03542,-0.03649,-0.03756,-0.03863,-0.03971,-0.04078,-0.04185,-0.04293];
const rayM45ym = [-0.00483,-0.00590,-0.00698,-0.00805,-0.00912,-0.01020,-0.01127,-0.01234,-0.01342,-0.01449,-0.01556,-0.01663,-0.01771,-0.01878,-0.01985,-0.02093,-0.02200,-0.02307,-0.02415,-0.02522,-0.02629,-0.02737,-0.02844,-0.02951,-0.03059,-0.03166,-0.03273,-0.03381,-0.03488,-0.03595,-0.03702,-0.03810,-0.03917,-0.04024,-0.04132,-0.04239];
const rayF1x = [-0.00201,-0.00251,-0.00301,-0.00351,-0.00401,-0.00451,-0.00502,-0.00552,-0.00602,-0.00652,-0.00702,-0.00752,-0.00802,-0.00852,-0.00903,-0.00953,-0.01003,-0.01053,-0.01103,-0.01153,-0.01203,-0.01254,-0.01304,-0.01354,-0.01404,-0.01454,-0.01504,-0.01555,-0.01605,-0.01655,-0.01705,-0.01755,-0.01805,-0.01855,-0.01906,-0.01956,-0.02006];
const rayF1xm = [-0.00226,-0.00276,-0.00326,-0.00376,-0.00426,-0.00476,-0.00527,-0.00577,-0.00627,-0.00677,-0.00727,-0.00777,-0.00827,-0.00878,-0.00928,-0.00978,-0.01028,-0.01078,-0.01128,-0.01178,-0.01229,-0.01279,-0.01329,-0.01379,-0.01429,-0.01479,-0.01529,-0.01580,-0.01630,-0.01680,-0.01730,-0.01780,-0.01830,-0.01880,-0.01931,-0.01981];
const rayF2x = [-0.00189,-0.00236,-0.00283,-0.00330,-0.00377,-0.00425,-0.00472,-0.00519,-0.00566,-0.00613,-0.00661,-0.00708,-0.00755,-0.00802,-0.00849,-0.00896,-0.00944,-0.00991,-0.01038,-0.01085,-0.01132,-0.01179,-0.01227,-0.01274,-0.01321,-0.01368,-0.01415,-0.01462,-0.01510,-0.01557,-0.01604,-0.01651,-0.01698,-0.01745,-0.01793,-0.01840,-0.01887];
const rayF2xm = [-0.00212,-0.00259,-0.00307,-0.00354,-0.00401,-0.00448,-0.00495,-0.00543,-0.00590,-0.00637,-0.00684,-0.00731,-0.00778,-0.00826,-0.00873,-0.00920,-0.00967,-0.01014,-0.01061,-0.01109,-0.01156,-0.01203,-0.01250,-0.01297,-0.01345,-0.01392,-0.01439,-0.01486,-0.01533,-0.01580,-0.01628,-0.01675,-0.01722,-0.01769,-0.01816,-0.01863];
const rayF27y = [-0.00414,-0.00518,-0.00621,-0.00725,-0.00829,-0.00932,-0.01036,-0.01139,-0.01243,-0.01346,-0.01450,-0.01554,-0.01657,-0.01761,-0.01864,-0.01968,-0.02072,-0.02175,-0.02279,-0.02382,-0.02486,-0.02589,-0.02693,-0.02797,-0.02900,-0.03004,-0.03107,-0.03211,-0.03315,-0.03418,-0.03522,-0.03625,-0.03729,-0.03832,-0.03936,-0.04040,-0.04143];
const rayF27ym = [-0.00466,-0.00570,-0.00673,-0.00777,-0.00880,-0.00984,-0.01088,-0.01191,-0.01295,-0.01398,-0.01502,-0.01606,-0.01709,-0.01813,-0.01916,-0.02020,-0.02123,-0.02227,-0.02331,-0.02434,-0.02538,-0.02641,-0.02745,-0.02848,-0.02952,-0.03056,-0.03159,-0.03263,-0.03366,-0.03470,-0.03573,-0.03677,-0.03781,-0.03884,-0.03988,-0.04091];
const rayF3x = [-0.00176,-0.00220,-0.00264,-0.00308,-0.00352,-0.00396,-0.00440,-0.00484,-0.00528,-0.00572,-0.00616,-0.00660,-0.00704,-0.00748,-0.00792,-0.00836,-0.00880,-0.00924,-0.00968,-0.01012,-0.01056,-0.01100,-0.01144,-0.01188,-0.01232,-0.01276,-0.01320,-0.01364,-0.01408,-0.01452,-0.01496,-0.01540,-0.01584,-0.01628,-0.01672,-0.01716,-0.01760];
const rayF3xm = [-0.00198,-0.00242,-0.00286,-0.00330,-0.00374,-0.00418,-0.00462,-0.00506,-0.00550,-0.00594,-0.00638,-0.00682,-0.00726,-0.00770,-0.00814,-0.00858,-0.00902,-0.00946,-0.00990,-0.01034,-0.01078,-0.01122,-0.01166,-0.01210,-0.01254,-0.01298,-0.01342,-0.01386,-0.01430,-0.01474,-0.01518,-0.01562,-0.01606,-0.01650,-0.01694,-0.01738];
const rayF36y = [-0.00410,-0.00513,-0.00615,-0.00718,-0.00820,-0.00923,-0.01025,-0.01128,-0.01230,-0.01333,-0.01435,-0.01538,-0.01640,-0.01743,-0.01845,-0.01948,-0.02051,-0.02153,-0.02256,-0.02358,-0.02461,-0.02563,-0.02666,-0.02768,-0.02871,-0.02973,-0.03076,-0.03178,-0.03281,-0.03383,-0.03486,-0.03588,-0.03691,-0.03793,-0.03896,-0.03998,-0.04101];
const rayF36ym = [-0.00461,-0.00564,-0.00666,-0.00769,-0.00871,-0.00974,-0.01077,-0.01179,-0.01282,-0.01384,-0.01487,-0.01589,-0.01692,-0.01794,-0.01897,-0.01999,-0.02102,-0.02204,-0.02307,-0.02409,-0.02512,-0.02615,-0.02717,-0.02820,-0.02922,-0.03025,-0.03127,-0.03230,-0.03332,-0.03435,-0.03537,-0.03640,-0.03742,-0.03845,-0.03947,-0.04050];
const rayF4x = [-0.00163,-0.00204,-0.00245,-0.00286,-0.00327,-0.00367,-0.00408,-0.00449,-0.00490,-0.00531,-0.00572,-0.00612,-0.00653,-0.00694,-0.00735,-0.00776,-0.00816,-0.00857,-0.00898,-0.00939,-0.00980,-0.01021,-0.01061,-0.01102,-0.01143,-0.01184,-0.01225,-0.01265,-0.01306,-0.01347,-0.01388,-0.01429,-0.01470,-0.01510,-0.01551,-0.01592,-0.01633];
const rayF4xm = [-0.00184,-0.00225,-0.00265,-0.00306,-0.00347,-0.00388,-0.00429,-0.00470,-0.00510,-0.00551,-0.00592,-0.00633,-0.00674,-0.00714,-0.00755,-0.00796,-0.00837,-0.00878,-0.00919,-0.00959,-0.01000,-0.01041,-0.01082,-0.01123,-0.01163,-0.01204,-0.01245,-0.01286,-0.01327,-0.01367,-0.01408,-0.01449,-0.01490,-0.01531,-0.01572,-0.01612];
const rayF5x = [-0.00150,-0.00187,-0.00225,-0.00262,-0.00299,-0.00337,-0.00374,-0.00412,-0.00449,-0.00487,-0.00524,-0.00561,-0.00599,-0.00636,-0.00674,-0.00711,-0.00749,-0.00786,-0.00823,-0.00861,-0.00898,-0.00936,-0.00973,-0.01010,-0.01048,-0.01085,-0.01123,-0.01160,-0.01198,-0.01235,-0.01272,-0.01310,-0.01347,-0.01385,-0.01422,-0.01460,-0.01497];
const rayF5xm = [-0.00168,-0.00206,-0.00243,-0.00281,-0.00318,-0.00356,-0.00393,-0.00430,-0.00468,-0.00505,-0.00543,-0.00580,-0.00617,-0.00655,-0.00692,-0.00730,-0.00767,-0.00805,-0.00842,-0.00879,-0.00917,-0.00954,-0.00992,-0.01029,-0.01066,-0.01104,-0.01141,-0.01179,-0.01216,-0.01254,-0.01291,-0.01328,-0.01366,-0.01403,-0.01441,-0.01478];
const rayF45y = [-0.00407,-0.00509,-0.00611,-0.00713,-0.00815,-0.00917,-0.01019,-0.01120,-0.01222,-0.01324,-0.01426,-0.01528,-0.01630,-0.01731,-0.01833,-0.01935,-0.02037,-0.02139,-0.02241,-0.02343,-0.02444,-0.02546,-0.02648,-0.02750,-0.02852,-0.02954,-0.03056,-0.03157,-0.03259,-0.03361,-0.03463,-0.03565,-0.03667,-0.03768,-0.03870,-0.03972,-0.04074];
const rayF45ym = [-0.00458,-0.00560,-0.00662,-0.00764,-0.00866,-0.00968,-0.01069,-0.01171,-0.01273,-0.01375,-0.01477,-0.01579,-0.01680,-0.01782,-0.01884,-0.01986,-0.02088,-0.02190,-0.02292,-0.02393,-0.02495,-0.02597,-0.02699,-0.02801,-0.02903,-0.03005,-0.03106,-0.03208,-0.03310,-0.03412,-0.03514,-0.03616,-0.03717,-0.03819,-0.03921,-0.04023];
const rayF6x = [-0.00136,-0.00170,-0.00204,-0.00238,-0.00272,-0.00306,-0.00340,-0.00374,-0.00408,-0.00442,-0.00476,-0.00510,-0.00544,-0.00578,-0.00612,-0.00647,-0.00681,-0.00715,-0.00749,-0.00783,-0.00817,-0.00851,-0.00885,-0.00919,-0.00953,-0.00987,-0.01021,-0.01055,-0.01089,-0.01123,-0.01157,-0.01191,-0.01225,-0.01259,-0.01293,-0.01327,-0.01361];
const rayF6xm = [-0.00153,-0.00187,-0.00221,-0.00255,-0.00289,-0.00323,-0.00357,-0.00391,-0.00425,-0.00459,-0.00493,-0.00527,-0.00561,-0.00596,-0.00630,-0.00664,-0.00698,-0.00732,-0.00766,-0.00800,-0.00834,-0.00868,-0.00902,-0.00936,-0.00970,-0.01004,-0.01038,-0.01072,-0.01106,-0.01140,-0.01174,-0.01208,-0.01242,-0.01276,-0.01310,-0.01344];
const rayF7x = [-0.00122,-0.00152,-0.00183,-0.00213,-0.00243,-0.00274,-0.00304,-0.00335,-0.00365,-0.00396,-0.00426,-0.00456,-0.00487,-0.00517,-0.00548,-0.00578,-0.00608,-0.00639,-0.00669,-0.00700,-0.00730,-0.00761,-0.00791,-0.00821,-0.00852,-0.00882,-0.00913,-0.00943,-0.00974,-0.01004,-0.01034,-0.01065,-0.01095,-0.01126,-0.01156,-0.01187,-0.01217];
const rayF7xm = [-0.00137,-0.00167,-0.00198,-0.00228,-0.00259,-0.00289,-0.00320,-0.00350,-0.00380,-0.00411,-0.00441,-0.00472,-0.00502,-0.00532,-0.00563,-0.00593,-0.00624,-0.00654,-0.00685,-0.00715,-0.00745,-0.00776,-0.00806,-0.00837,-0.00867,-0.00897,-0.00928,-0.00958,-0.00989,-0.01019,-0.01050,-0.01080,-0.01110,-0.01141,-0.01171,-0.01202];

const zip = (xs, ys) => xs.map((x, i) => [x, ys[i]]);
const grayRays = [].concat(
  zip(rayL1x, rayL1y), zip(rayL2x, rayL2y), zip(rayL3x, rayL3y), zip(rayL4x, rayL4y), zip(rayL5x, rayL5y), zip(rayL6x, rayL6y),
  zip(rayL1xm, rayL1ym), zip(rayL2xm, rayL2ym), zip(rayL3xm, rayL3ym), zip(rayL4xm, rayL4ym), zip(rayL5xm, rayL5ym), zip(rayL6xm, rayL6ym),
  zip(rayM1x, rayM12y), zip(rayM2x, rayM12y), zip(rayM3x, rayM3y), zip(rayM4x, rayM45y), zip(rayM5x, rayM45y),
  zip(rayM1xm, rayM12ym), zip(rayM2xm, rayM12ym), zip(rayM3xm, rayM3ym), zip(rayM4xm, rayM45ym), zip(rayM5xm, rayM45ym),
  zip(rayF1x, rayM12y), zip(rayF2x, rayF27y), zip(rayF3x, rayF36y), zip(rayF4x, rayF45y), zip(rayF5x, rayF45y), zip(rayF6x, rayF36y), zip(rayF7x, rayF27y),
  zip(rayF1xm, rayM12ym), zip(rayF2xm, rayF27ym), zip(rayF3xm, rayF36ym), zip(rayF4xm, rayF45ym), zip(rayF5xm, rayF45ym), zip(rayF6xm, rayF36ym), zip(rayF7xm, rayF27ym));

const grayDots = [].concat(grayRays, grayLowerLeft, grayLowerMid, grayEnvelope, grayTeeth, grayRowsUL, grayArcsMid, grayRightRows, grayBelowRight, grayWedgeRight);

const FONT = 'DejaVu Sans';
const fmt = v => {
  const r = Math.round(v * 100) / 100;
  if (Math.abs(r) < 1e-9) return '0.00';
  return (r < 0 ? '\u2212' : '') + Math.abs(r).toFixed(2);
};
const tickStyle = {show: true, inside: true, length: 8, lineStyle: {color: '#000', width: 1}};
const lineStyle = {show: true, onZero: false, lineStyle: {color: '#000', width: 1.5}};
const xBase = {type: 'value', min: xTicks[xTicks.length - 1], max: xTicks[0], interval: 0.01, inverse: true,
  splitLine: {show: false}, axisLine: lineStyle, axisTick: tickStyle};
const yBase = {type: 'value', min: yTicks[yTicks.length - 1], max: yTicks[0], interval: 0.02,
  splitLine: {show: false}, axisLine: lineStyle, axisTick: tickStyle};

const chart = echarts.init(document.getElementById('c'), null, {renderer: 'canvas'});
const legendRows = [616.7, 661.7, 706.3, 751];
const legendMarkers = [
  {shape: 'circle', color: '#0000ff'}, {shape: 'diamond', color: '#0000ff'},
  {shape: 'circle', color: '#ff0000'}, {shape: 'diamond', color: '#ff0000'}];
const graphics = [
  {type: 'text', x: 600.5, y: 26, style: {text: titleText, font: '38px "' + FONT + '"', fill: '#000', align: 'center', verticalAlign: 'middle'}},
  {type: 'text', x: 601, y: 833, style: {text: xAxisName, font: '24px "' + FONT + '"', fill: '#000', align: 'center', verticalAlign: 'middle'}},
  {type: 'text', x: 22, y: 414.5, rotation: Math.PI / 2, style: {text: yAxisName, font: '24px "' + FONT + '"', fill: '#000', align: 'center', verticalAlign: 'middle'}},
  {type: 'rect', shape: {x: 496, y: 592, width: 577, height: 188}, style: {fill: '#fff', stroke: '#000', lineWidth: 1.5}, z: 100}
];
legendMarkers.forEach((m, i) => {
  const cy = legendRows[i], cx = 539;
  if (m.shape === 'circle') {
    graphics.push({type: 'circle', shape: {cx: cx, cy: cy, r: 6.5}, style: {fill: m.color, stroke: '#000', lineWidth: 1}, z: 101});
  } else {
    graphics.push({type: 'polygon', shape: {points: [[cx, cy - 8.5], [cx + 8.5, cy], [cx, cy + 8.5], [cx - 8.5, cy]]}, style: {fill: m.color, stroke: '#000', lineWidth: 1}, z: 101});
  }
  const mm = legendMath[i];
  let txt = '{a|' + legendMain + '}{m|' + mm[0] + '}{d|\u00b0}';
  if (mm[1]) txt += '{m|  ' + mm[1] + '}{d|\u00b0}';
  graphics.push({type: 'text', x: 580, y: cy, z: 101, style: {text: txt, verticalAlign: 'middle', align: 'left', fill: '#000',
    rich: {a: {fontFamily: FONT, fontSize: 29.5, fill: '#000', color: '#000'},
           m: {fontFamily: 'Liberation Serif', fontSize: 33, fill: '#000', color: '#000'},
           d: {fontFamily: 'Liberation Serif', fontSize: 33, fill: '#000', color: '#000'}}}});
});

const mk = (name, data, symbol, size, color, border) => ({
  type: 'scatter', name: name, data: data, symbol: symbol, symbolSize: size, large: false, silent: true,
  itemStyle: border ? {color: color, opacity: 1, borderColor: '#000', borderWidth: 1} : {color: color, opacity: 1}
});

chart.setOption({
  animation: false,
  backgroundColor: '#fff',
  grid: {left: 129, right: 47, top: 50, bottom: 73},
  xAxis: [
    Object.assign({}, xBase, {position: 'bottom', axisLabel: {formatter: fmt, fontFamily: FONT, fontSize: 23, color: '#000', margin: 8}}),
    Object.assign({}, xBase, {position: 'top', axisLabel: {show: false}})
  ],
  yAxis: [
    Object.assign({}, yBase, {position: 'left', axisLabel: {formatter: fmt, fontFamily: FONT, fontSize: 23, color: '#000', margin: 6}}),
    Object.assign({}, yBase, {position: 'right', axisLabel: {show: false}})
  ],
  series: [
    mk('gray', grayDots, 'circle', 7, '#808080', false),
    mk('blueCircle', blueCircle, 'circle', 13, '#0000ff', true),
    mk('blueDiamond', blueDiamond, 'diamond', 17, '#0000ff', true),
    mk('redCircle', redCircle, 'circle', 13, '#ff0000', true),
    mk('redDiamond', redDiamond, 'diamond', 17, '#ff0000', true)
  ],
  graphic: graphics
});
</script></body></html>
